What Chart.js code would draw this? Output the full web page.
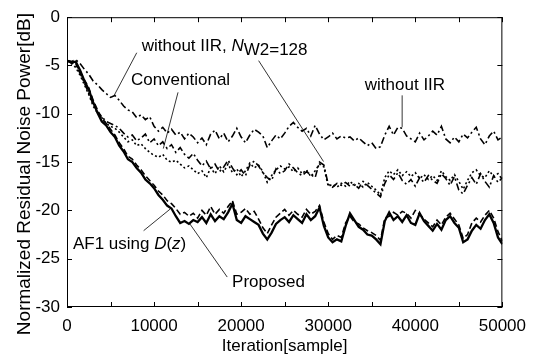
<!DOCTYPE html>
<html>
<head>
<meta charset="utf-8">
<script src="https://cdn.jsdelivr.net/npm/chart.js@4"></script>
<style>
  html, body { margin: 0; padding: 0; background: #fff; }
  #wrap { width: 535px; height: 358px; }
</style>
</head>
<body>
<div id="wrap"><canvas id="chart" width="535" height="358"></canvas></div>
<script>
// ------------------- Dane -------------------
const iterations = Array.from({ length: 101 }, (_, i) => i * 500);

const withoutIIR = [
  -4.5, -4.6, -4.4, -4.8, -5.4, -5.9, -6.6, -7.0, -7.5, -7.9,
  -8.3, -8.1, -8.6, -9.2, -9.6, -9.8, -10.4, -10.1, -10.6, -10.3,
  -11.3, -11.8, -11.4, -12.0, -11.6, -12.2, -11.9, -12.6, -12.0, -12.4,
  -13.0, -12.5, -13.2, -12.1, -11.7, -12.6, -12.0, -12.9, -12.3, -11.5,
  -12.4, -13.0, -12.2, -11.6, -11.9, -12.3, -13.5, -12.8, -12.2, -12.6,
  -12.0, -11.3, -10.9, -11.4, -11.8, -11.5, -12.3, -11.2, -12.1, -12.7,
  -12.4, -12.0, -12.6, -12.3, -12.5, -12.4, -12.8, -12.5, -12.9, -13.3,
  -13.0, -13.6, -13.4, -12.2, -11.3, -12.2, -11.4, -11.5, -12.3, -12.6,
  -12.9, -12.0, -12.7, -12.3, -11.8, -12.2, -11.3, -12.6, -13.0, -12.4,
  -12.9, -12.1, -12.5, -11.9, -11.4, -12.6, -13.2, -12.3, -11.8, -12.7,
  -12.4
];

const withoutIIRNw2 = [
  -4.5, -4.7, -5.0, -5.8, -6.8, -7.9, -9.0, -9.8, -10.3, -10.8,
  -11.0, -11.2, -11.5, -12.0, -12.4, -12.2, -12.8, -12.5, -12.1, -13.0,
  -12.6, -13.3, -12.9, -13.6, -13.2, -14.0, -13.5, -14.2, -14.6, -14.1,
  -14.8, -15.4, -14.9, -15.7, -15.2, -16.0, -15.5, -14.8, -15.6, -16.3,
  -15.8, -16.4, -15.3, -14.9, -15.4, -16.1, -16.6, -16.9, -15.7, -16.2,
  -15.9, -15.2, -15.6, -16.1, -16.4, -16.0, -16.3, -16.6, -15.0, -15.3,
  -17.3, -17.6, -17.2, -17.4, -17.1, -17.5, -17.3, -17.7, -17.0, -17.4,
  -17.8, -18.2, -18.6, -17.2, -16.3, -16.8, -16.1, -16.9, -17.3, -16.8,
  -17.5, -16.6, -17.1, -16.4, -16.9, -17.2, -16.2, -16.7, -17.4, -16.5,
  -17.9, -18.3, -17.4, -16.6, -17.3, -16.2, -17.0, -17.6, -16.4, -17.1,
  -16.6
];

const conventional = [
  -4.5, -4.8, -5.2, -6.0, -7.0, -8.0, -9.2, -9.9, -10.4, -11.0,
  -11.3, -11.5, -11.9, -12.4, -12.9, -12.7, -13.3, -13.1, -13.6, -14.0,
  -14.3, -14.5, -14.2, -14.8, -15.0, -14.8, -15.2, -15.6, -15.4, -15.8,
  -16.2, -15.9, -16.6, -15.6, -16.2, -15.4, -16.0, -15.2, -16.1, -15.7,
  -16.5, -15.9, -15.1, -15.6, -15.3, -16.0, -17.1, -16.4, -15.8, -15.4,
  -15.7, -15.5, -16.0, -15.6, -16.2, -15.8, -16.5, -15.9, -15.2, -15.5,
  -17.5, -17.3, -17.6, -17.2, -17.5, -17.0, -17.4, -17.2, -17.6, -17.1,
  -17.5, -17.9, -18.4, -16.6, -15.9, -16.3, -15.8, -16.4, -16.0, -16.5,
  -16.1, -16.7, -16.3, -16.8, -16.4, -16.9, -15.9, -16.5, -16.9, -16.3,
  -17.0, -17.8, -16.9, -16.1, -15.8, -16.4, -16.6, -15.9, -16.5, -16.2,
  -16.8
];

const proposed = [
  -4.5, -4.7, -4.6, -5.5, -6.6, -7.5, -8.8, -9.9, -10.8, -11.2,
  -11.9, -12.4, -13.3, -13.9, -14.7, -15.0, -15.6, -16.1, -16.8, -17.2,
  -17.7, -18.4, -18.9, -19.5, -19.8, -20.6, -21.3, -21.1, -21.4, -21.0,
  -21.2, -20.7, -21.3, -20.4, -21.1, -20.6, -20.9, -20.2, -19.3, -21.0,
  -21.3, -20.6, -20.9, -21.2, -21.5, -22.4, -23.0, -22.3, -21.4, -21.0,
  -20.7, -21.2, -20.5, -20.9, -21.3, -20.4, -21.0, -20.6, -19.7, -21.6,
  -22.8, -23.3, -23.0, -23.2, -21.6, -20.3, -21.0, -21.7, -22.0, -22.5,
  -22.6, -23.0, -23.5, -21.1, -20.2, -21.0, -20.6, -21.2, -20.5, -21.3,
  -21.5, -20.3, -21.1, -21.6, -22.1, -21.4, -22.0, -21.0, -20.6, -21.3,
  -21.8, -23.3, -23.0, -22.1, -21.5, -21.9, -21.0, -20.4, -21.3, -22.8,
  -23.5
];

const af1UsingDz = [
  -4.5, -4.6, -4.8, -5.6, -6.5, -7.3, -8.6, -9.6, -10.5, -11.0,
  -11.6, -12.2, -13.0, -13.6, -14.4, -14.7, -15.3, -15.8, -16.4, -16.9,
  -17.4, -18.0, -18.4, -19.0, -19.3, -19.8, -20.4, -20.2, -20.6, -20.3,
  -20.8, -20.0, -20.5, -19.6, -20.4, -19.9, -20.3, -19.6, -19.0, -20.4,
  -20.2, -19.8, -20.4, -20.1, -20.9, -21.8, -22.4, -21.5, -20.7, -20.3,
  -19.9, -20.5, -20.0, -20.4, -20.7, -19.9, -20.4, -20.1, -19.5, -21.2,
  -22.4, -23.0, -22.6, -22.8, -21.3, -20.6, -21.2, -21.4, -21.8, -22.1,
  -22.3, -22.6, -23.1, -20.8, -20.6, -20.2, -20.5, -20.1, -20.3, -20.8,
  -20.0, -20.4, -20.9, -21.3, -21.7, -21.0, -21.5, -20.7, -20.3, -20.9,
  -21.5, -22.9, -22.5, -21.3, -20.8, -21.2, -20.5, -20.0, -20.8, -22.2,
  -23.2
];

const xTickLabels = ['0', '10000', '20000', '30000', '40000', '50000'];
const yTickLabels = ['0', '-5', '-10', '-15', '-20', '-25', '-30'];
const yTitle = 'Normalized Residual Noise Power[dB]';

// ------------------- Opisy (pozycje w jednostkach danych) -------------------
// każdy opis: fragmenty tekstu + linia odniesienia
const labels = [
  { at: [8580, -3.5], parts: [['without IIR, ', 'n'], ['N', 'i'], ['W2=128', 's']] },
  { at: [7340, -7.06], parts: [['Conventional', 'n']] },
  { at: [34200, -7.57], parts: [['without IIR', 'n']] },
  { at: [680, -23.95], parts: [['AF1 using ', 'n'], ['D', 'i'], ['(', 'n'], ['z', 'i'], [')', 'n']] },
  { at: [18960, -27.94], parts: [['Proposed', 'n']] }
];
const leaders = [
  [[8010, -3.68], [5420, -8.09]],
  [[22010, -4.5], [29460, -14.94]],
  [[12750, -7.78], [11060, -13.6]],
  [[38490, -8.09], [38490, -11.36]],
  [[8800, -22.1], [11850, -19.86]],
  [[18400, -26.9], [14110, -21.4]]
];

const FONT = '"Liberation Sans", Arial, Helvetica, sans-serif';

// ------------------- Plugin: ramka, ticki do wewnątrz, opisy -------------------
const matlabFrame = {
  id: 'matlabFrame',
  afterDatasetsDraw(chart) {
    const { ctx, chartArea: a, scales: { x, y } } = chart;
    ctx.save();
    ctx.strokeStyle = '#000';
    ctx.lineWidth = 1;
    ctx.strokeRect(a.left + 0.5, a.top + 0.5, a.right - a.left - 1, a.bottom - a.top - 1);

    ctx.beginPath();
    for (let v = 0; v <= 50000; v += 5000) {
      const px = Math.round(x.getPixelForValue(v)) + 0.5;
      ctx.moveTo(px, a.bottom); ctx.lineTo(px, a.bottom - 5);
      ctx.moveTo(px, a.top); ctx.lineTo(px, a.top + 5);
    }
    for (let v = 0; v >= -30; v -= 5) {
      const py = Math.round(y.getPixelForValue(v)) + 0.5;
      ctx.moveTo(a.left, py); ctx.lineTo(a.left + 5, py);
      ctx.moveTo(a.right, py); ctx.lineTo(a.right - 5, py);
    }
    ctx.stroke();

    // linie odniesienia
    ctx.lineWidth = 0.8;
    ctx.beginPath();
    leaders.forEach(([p, q]) => {
      ctx.moveTo(x.getPixelForValue(p[0]), y.getPixelForValue(p[1]));
      ctx.lineTo(x.getPixelForValue(q[0]), y.getPixelForValue(q[1]));
    });
    ctx.stroke();

    // teksty
    ctx.fillStyle = '#000';
    ctx.textBaseline = 'alphabetic';
    ctx.textAlign = 'left';
    labels.forEach(l => {
      let px = x.getPixelForValue(l.at[0]);
      const py = y.getPixelForValue(l.at[1]);
      l.parts.forEach(([txt, style]) => {
        ctx.font = (style === 'i' ? 'italic ' : '') + '17px ' + FONT;
        ctx.fillText(txt, px, py + (style === 's' ? 4 : 0));
        px += ctx.measureText(txt).width;
      });
    });

    // tytuł osi Y (nieco niżej niż środek osi, jak w oryginale)
    ctx.font = '19px ' + FONT;
    ctx.textAlign = 'center';
    ctx.textBaseline = 'middle';
    ctx.translate(25, (a.top + a.bottom) / 2 + 12);
    ctx.rotate(-Math.PI / 2);
    ctx.fillText(yTitle, 0, 0);
    ctx.restore();
  }
};

// ------------------- Wykres -------------------
const series = [
  { label: 'without IIR', data: withoutIIR, width: 1.6, dash: [7, 3, 2, 3] },
  { label: 'without IIR, NW2=128', data: withoutIIRNw2, width: 1.6, dash: [7, 3, 2, 3] },
  { label: 'Conventional', data: conventional, width: 1.6, dash: [2, 2.5] },
  { label: 'AF1 using D(z)', data: af1UsingDz, width: 1.6, dash: [6, 3] },
  { label: 'Proposed', data: proposed, width: 2.3, dash: [] }
];

new Chart(document.getElementById('chart'), {
  type: 'line',
  data: {
    datasets: series.map(s => ({
      label: s.label,
      data: s.data.map((v, i) => ({ x: iterations[i], y: v })),
      borderColor: '#000',
      borderWidth: s.width,
      borderDash: s.dash,
      pointRadius: 0,
      tension: 0,
      fill: false
    }))
  },
  options: {
    responsive: false,
    animation: false,
    events: [],
    layout: { padding: { top: 14, right: 25, left: 0, bottom: 0 } },
    plugins: { legend: { display: false }, tooltip: { enabled: false } },
    scales: {
      x: {
        type: 'linear', min: 0, max: 50000,
        grid: { display: false, drawTicks: false }, border: { display: false },
        afterFit: s => { s.height = 51; },
        afterBuildTicks: s => { s.ticks = xTickLabels.map(t => ({ value: Number(t) })); },
        ticks: { color: '#000', font: { family: FONT, size: 17 }, padding: 9, maxRotation: 0,
                 callback: v => String(v) },
        title: { display: true, text: 'Iteration[sample]', color: '#000',
                 font: { family: FONT, size: 17 }, padding: { top: 0, bottom: 1 } }
      },
      y: {
        type: 'linear', min: -30, max: 0,
        grid: { display: false, drawTicks: false }, border: { display: false },
        afterFit: s => { s.width = 67; },
        afterBuildTicks: s => { s.ticks = yTickLabels.map(t => ({ value: Number(t) })); },
        ticks: { color: '#000', font: { family: FONT, size: 17 }, padding: 7,
                 callback: v => String(v) },
        title: { display: false }
      }
    }
  },
  plugins: [matlabFrame]
});
</script>
</body>
</html>
